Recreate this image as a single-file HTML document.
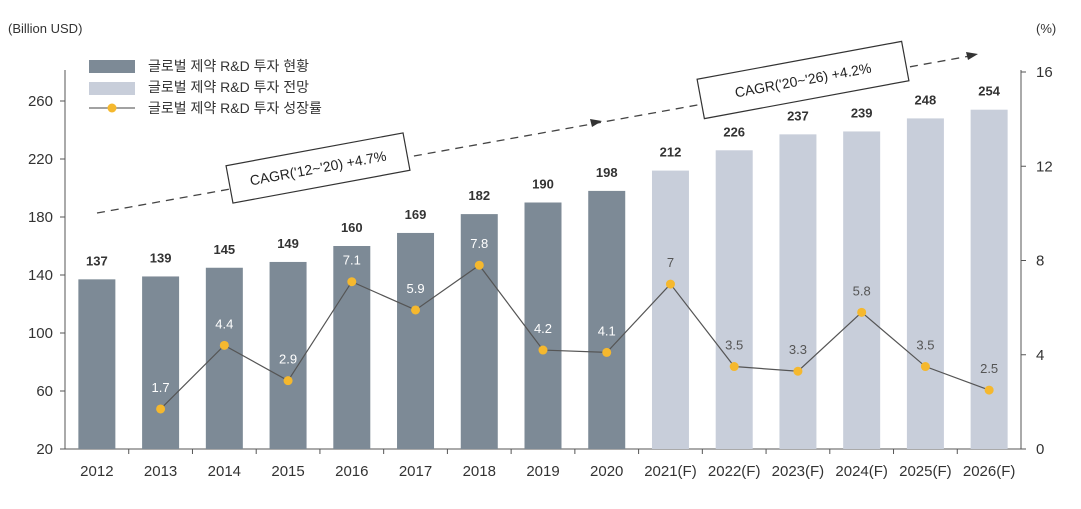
<!DOCTYPE html>
<html><head><meta charset="utf-8"><style>
body{margin:0;background:#fff;}
svg{font-family:"Liberation Sans","Noto Sans CJK KR",sans-serif;}
</style></head><body>
<svg id="c" width="1081" height="504">
<text x="8" y="33" font-size="13" fill="#333">(Billion USD)</text>
<text x="1036" y="33" font-size="13" fill="#333">(%)</text>
<g>
<rect x="89" y="60" width="46" height="13" fill="#7d8a96"/>
<text x="148" y="71" font-size="14" fill="#333">글로벌 제약 R&amp;D 투자 현황</text>
<rect x="89" y="82" width="46" height="13" fill="#c8ceda"/>
<text x="148" y="92" font-size="14" fill="#333">글로벌 제약 R&amp;D 투자 전망</text>
<line x1="89" y1="108" x2="135" y2="108" stroke="#444" stroke-width="1"/>
<circle cx="112" cy="108" r="4.5" fill="#f5b82e"/>
<text x="148" y="113" font-size="14" fill="#333">글로벌 제약 R&amp;D 투자 성장률</text>
</g>
<g id="plot"></g>
<g>
<line x1="97" y1="213" x2="970" y2="56" stroke="#444" stroke-width="1.3" stroke-dasharray="8,6"/>
<polygon points="602,121 590,119 592,127" fill="#333"/>
<polygon points="978,54 966,52 968,60" fill="#333"/>
<g transform="translate(318,168) rotate(-10.5)">
<rect x="-90" y="-19" width="180" height="38" fill="#fff" stroke="#333" stroke-width="1.2"/>
<text x="0" y="5" font-size="14" text-anchor="middle" fill="#222">CAGR('12~'20) +4.7%</text>
</g>
<g transform="translate(803,80) rotate(-10.5)">
<rect x="-104" y="-20" width="208" height="40" fill="#fff" stroke="#333" stroke-width="1.2"/>
<text x="0" y="5" font-size="14" text-anchor="middle" fill="#222">CAGR('20~'26) +4.2%</text>
</g>
</g>
</svg>
<script>
const categories=["2012","2013","2014","2015","2016","2017","2018","2019","2020","2021(F)","2022(F)","2023(F)","2024(F)","2025(F)","2026(F)"];
const investment=[137,139,145,149,160,169,182,190,198,212,226,237,239,248,254];
const forecast=[false,false,false,false,false,false,false,false,false,true,true,true,true,true,true];
const growthCats=["2013","2014","2015","2016","2017","2018","2019","2020","2021(F)","2022(F)","2023(F)","2024(F)","2025(F)","2026(F)"];
const growth=[1.7,4.4,2.9,7.1,5.9,7.8,4.2,4.1,7,3.5,3.3,5.8,3.5,2.5];
const leftTicks=[20,60,100,140,180,220,260];
const rightTicks=[0,4,8,12,16];

const NS="http://www.w3.org/2000/svg";
const g=document.getElementById('plot');
const X0=65,X1=1021,Y0=449;
const band=(X1-X0)/categories.length;
const xc=i=>X0+band*(i+0.5);
const yL=v=>Y0-(v-20)/240*348;
const yR=v=>Y0-v/16*377;
function mk(t,a){const e=document.createElementNS(NS,t);for(const k in a)e.setAttribute(k,a[k]);g.appendChild(e);return e;}
// axes
let e=mk('line',{x1:X0,y1:Y0,x2:X1,y2:Y0,stroke:'#555','stroke-width':1});


e=mk('line',{x1:X0,y1:70,x2:X0,y2:Y0,stroke:'#555','stroke-width':1});


e=mk('line',{x1:X1,y1:70,x2:X1,y2:Y0,stroke:'#555','stroke-width':1});


leftTicks.forEach(v=>{
 mk('line',{x1:X0-5,y1:yL(v),x2:X0,y2:yL(v),stroke:'#555'});
 const t=mk('text',{x:X0-12,y:yL(v)+5,'font-size':15,'text-anchor':'end',fill:'#333'});t.textContent=v;
 
 
});
rightTicks.forEach(v=>{
 mk('line',{x1:X1,y1:yR(v),x2:X1+5,y2:yR(v),stroke:'#555'});
 const t=mk('text',{x:X1+15,y:yR(v)+5,'font-size':15,fill:'#333'});t.textContent=v;
 
 
});
categories.forEach((c,i)=>{
 if(i>0)mk('line',{x1:X0+band*i,y1:Y0,x2:X0+band*i,y2:Y0+5,stroke:'#555'});
 const r=mk('rect',{x:xc(i)-18.5,y:yL(investment[i]),width:37,height:Y0-yL(investment[i]),fill:forecast[i]?'#c8ceda':'#7d8a96'});
 
 
 const v=mk('text',{x:xc(i),y:yL(investment[i])-14,'font-size':13,'font-weight':'bold','text-anchor':'middle',fill:'#333'});v.textContent=investment[i];
 
 
 const t=mk('text',{x:xc(i),y:476,'font-size':15,'text-anchor':'middle',fill:'#333'});t.textContent=c;
 
 
});
const gi=growthCats.map(c=>categories.indexOf(c));
const pl=mk('polyline',{points:gi.map((i,k)=>xc(i)+','+yR(growth[k])).join(' '),fill:'none',stroke:'#555','stroke-width':1.2});


gi.forEach((i,k)=>{
 const d=mk('circle',{cx:xc(i),cy:yR(growth[k]),r:4.5,fill:'#f5b82e'});
 
 
 const t=mk('text',{x:xc(i),y:yR(growth[k])-17,'font-size':13,'text-anchor':'middle',fill:forecast[i]?'#555':'#fff'});t.textContent=growth[k];
 
 
});
</script>
</body></html>
